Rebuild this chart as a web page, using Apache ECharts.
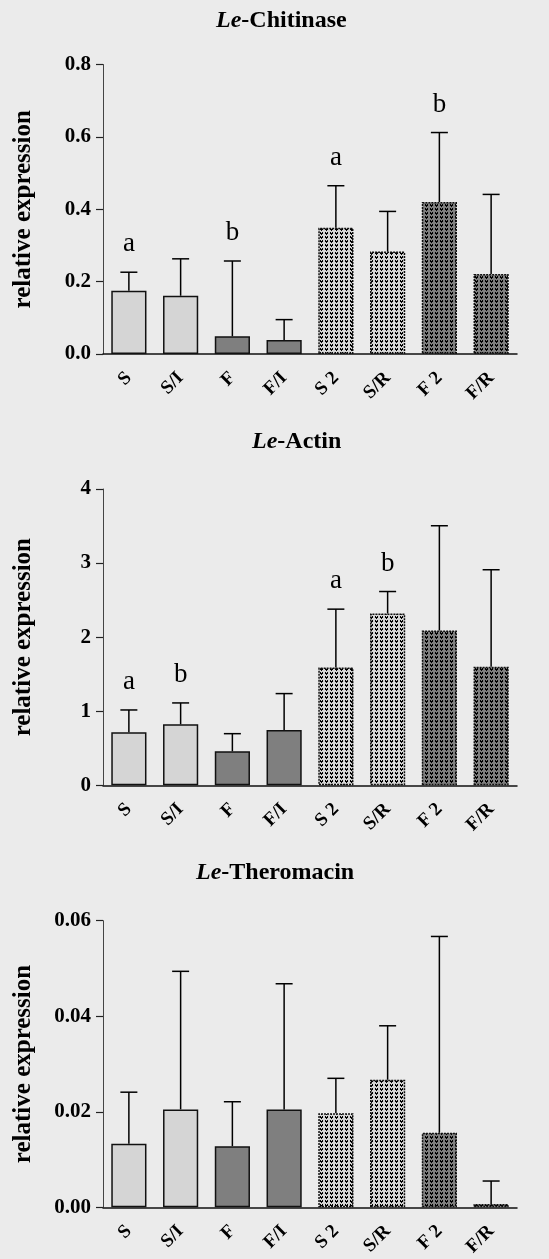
<!DOCTYPE html>
<html>
<head>
<meta charset="utf-8">
<script src="https://cdn.jsdelivr.net/npm/echarts@6/dist/echarts.min.js"></script>
<style>
html,body{margin:0;padding:0;background:#ebebeb;}
#chart{width:549px;height:1259px;}
</style>
</head>
<body>
<div id="chart"></div>
<script>
// ---- data ----
const categories = ['S', 'S/I', 'F', 'F/I', 'S 2', 'S/R', 'F 2', 'F/R'];

const chitinaseMean = [0.175, 0.161, 0.049, 0.039, 0.349, 0.283, 0.420, 0.221];
const chitinaseSD   = [0.051, 0.102, 0.208, 0.056, 0.116, 0.111, 0.192, 0.220];
const chitinaseLetters = ['a', '', 'b', '', 'a', '', 'b', ''];

const actinMean = [0.716, 0.824, 0.459, 0.747, 1.589, 2.319, 2.089, 1.599];
const actinSD   = [0.301, 0.288, 0.238, 0.491, 0.789, 0.297, 1.415, 1.311];
const actinLetters = ['a', 'b', '', '', 'a', 'b', '', ''];

const theromacinMean = [0.0133, 0.0205, 0.0128, 0.0205, 0.0197, 0.0267, 0.0156, 0.0007];
const theromacinSD   = [0.0108, 0.0289, 0.0093, 0.0263, 0.0073, 0.0113, 0.0411, 0.0048];
const theromacinLetters = ['', '', '', '', '', '', '', ''];

const chitinaseTicks = {min: 0, max: 0.8, interval: 0.2, digits: 1};
const actinTicks = {min: 0, max: 4, interval: 1, digits: 0};
const theromacinTicks = {min: 0, max: 0.06, interval: 0.02, digits: 2};

// ---- styles ----
const SERIF = '"Liberation Serif", "DejaVu Serif", serif';
const LIGHT = '#d5d5d5';
const DARK = '#7f7f7f';

function makePattern(bg) {
  const c = document.createElement('canvas');
  c.width = 5; c.height = 4;
  const g = c.getContext('2d');
  g.fillStyle = bg; g.fillRect(0, 0, 5, 4);
  g.fillStyle = '#000';
  g.fillRect(0, 0, 1, 1);
  g.fillRect(2, 0, 1, 1);
  g.fillRect(0, 1, 3, 1);
  g.fillRect(1, 2, 1, 1);
  return {image: c, repeat: 'repeat'};
}
const fills = [
  {color: LIGHT}, {color: LIGHT}, {color: DARK}, {color: DARK},
  {color: makePattern(LIGHT), pattern: true}, {color: makePattern(LIGHT), pattern: true},
  {color: makePattern(DARK), pattern: true}, {color: makePattern(DARK), pattern: true}
];

const panels = [
  {name: 'Chitinase', mean: chitinaseMean, sd: chitinaseSD, letters: chitinaseLetters, ticks: chitinaseTicks,
   grid: {left: 103, right: 32, top: 64.5, height: 289.5}, titleLeft: 216, titleTop: 9},
  {name: 'Actin', mean: actinMean, sd: actinSD, letters: actinLetters, ticks: actinTicks,
   grid: {left: 103, right: 32, top: 489, height: 296.3}, titleLeft: 252, titleTop: 430},
  {name: 'Theromacin', mean: theromacinMean, sd: theromacinSD, letters: theromacinLetters, ticks: theromacinTicks,
   grid: {left: 103, right: 32, top: 920.7, height: 286.6}, titleLeft: 196, titleTop: 861}
];

const option = {
  backgroundColor: '#ebebeb',
  animation: false,
  title: [], grid: [], xAxis: [], yAxis: [], series: []
};

panels.forEach((p, k) => {
  option.title.push({
    text: '{i|Le}{b|-' + p.name + '}',
    left: p.titleLeft, top: p.titleTop, padding: 0,
    textStyle: {
      rich: {
        i: {fontFamily: SERIF, fontSize: 24, fontWeight: 'bold', fontStyle: 'italic', color: '#000'},
        b: {fontFamily: SERIF, fontSize: 24, fontWeight: 'bold', color: '#000'}
      }
    }
  });
  option.grid.push(p.grid);
  option.xAxis.push({
    type: 'category', gridIndex: k, data: categories,
    axisLine: {lineStyle: {color: '#111', width: 1.5}},
    axisTick: {alignWithLabel: true, length: 7, lineStyle: {color: '#111', width: 1.5}},
    axisLabel: {rotate: 45, margin: 21, fontFamily: SERIF, fontWeight: 'bold', fontSize: 19, color: '#000'}
  });
  option.yAxis.push({
    type: 'value', gridIndex: k, min: p.ticks.min, max: p.ticks.max, interval: p.ticks.interval,
    name: 'relative expression', nameLocation: 'middle', nameGap: 67,
    nameTextStyle: {fontFamily: SERIF, fontWeight: 'bold', fontSize: 25, color: '#000'},
    axisLine: {show: true, lineStyle: {color: '#444', width: 1}},
    axisTick: {show: true, length: 7, lineStyle: {color: '#222', width: 1.2}},
    splitLine: {show: false},
    axisLabel: {margin: 12, fontFamily: SERIF, fontWeight: 'bold', fontSize: 21, color: '#000',
      formatter: v => v.toFixed(p.ticks.digits)}
  });
  option.series.push({
    type: 'bar', xAxisIndex: k, yAxisIndex: k, barWidth: '68%',
    data: p.mean.map((v, i) => ({
      value: v,
      itemStyle: {
        color: fills[i].color,
        borderColor: '#111',
        borderWidth: 1.5,
        borderType: fills[i].pattern ? [2, 1] : 'solid'
      }
    }))
  });
  option.series.push({
    type: 'custom', xAxisIndex: k, yAxisIndex: k, z: 5,
    data: p.mean.map((v, i) => [i, v, v + p.sd[i]]),
    renderItem: function (params, api) {
      const i = api.value(0);
      const base = api.coord([i, api.value(1)]);
      const top = api.coord([i, api.value(2)]);
      const letter = p.letters[i];
      const capHalf = 8.5;
      const children = [
        {type: 'line', shape: {x1: base[0], y1: base[1], x2: top[0], y2: top[1]},
         style: {stroke: '#000', lineWidth: 1.5}},
        {type: 'line', shape: {x1: top[0] - capHalf, y1: top[1], x2: top[0] + capHalf, y2: top[1]},
         style: {stroke: '#000', lineWidth: 1.5}}
      ];
      if (letter) {
        children.push({type: 'text', x: top[0], y: top[1] - 28,
          style: {text: letter, fill: '#000', font: '27px ' + SERIF, align: 'center', verticalAlign: 'middle'}});
      }
      return {type: 'group', children: children};
    }
  });
});

const chart = echarts.init(document.getElementById('chart'), null, {renderer: 'canvas'});
chart.setOption(option);
</script>
</body>
</html>
